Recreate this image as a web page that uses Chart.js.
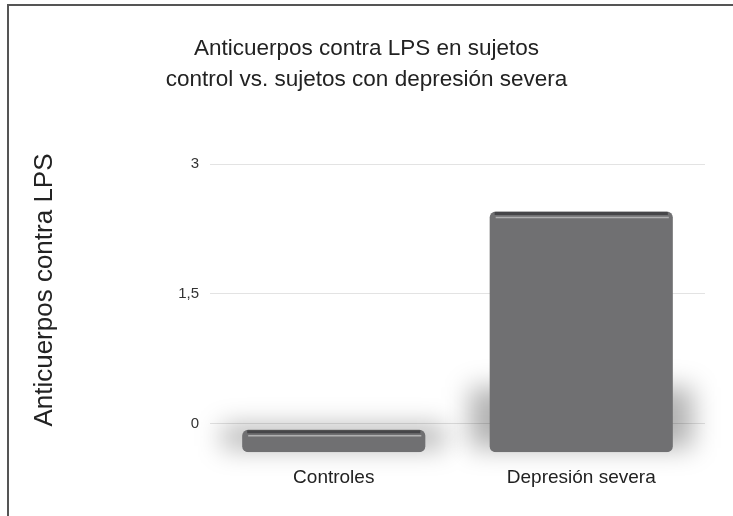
<!DOCTYPE html>
<html>
<head>
<meta charset="utf-8">
<script src="https://cdn.jsdelivr.net/npm/chart.js@4.4.1/dist/chart.umd.min.js"></script>
<style>
  html, body { margin: 0; padding: 0; background: #fff; }
  #wrap { position: relative; width: 733px; height: 516px; }
  #frame { position: absolute; left: 7px; top: 4px; right: 0; bottom: 0;
           border-left: 2px solid #555; border-top: 2px solid #555; pointer-events: none; }
  canvas { position: absolute; left: 0; top: 0; }
</style>
</head>
<body>
<div id="wrap">
  <canvas id="chart" width="733" height="516"></canvas>
  <div id="frame"></div>
</div>
<script>
// data
var categories = ['Controles', 'Depresión severa'];
var values = [-0.07, 2.45];
var tickValues = [0, 1.5, 3];
var titleLines = ['Anticuerpos contra LPS en sujetos', 'control vs. sujetos con depresión severa'];
var yTitle = 'Anticuerpos contra LPS';
var floorValue = -0.33;

var fontFamily = '"Liberation Sans", Arial, Helvetica, sans-serif';

// soft shadow behind the lower part of each bar, plus a rim at the top
var barShadow = {
    id: 'barShadow',
    beforeDatasetsDraw: function(chart){
        var ctx = chart.ctx;
        chart.getDatasetMeta(0).data.forEach(function(bar){
            var h = bar.base - bar.y;
            var sh = Math.min(65, h + 4);
            ctx.save();
            ctx.filter = 'blur(13px)';
            ctx.fillStyle = 'rgba(0,0,0,0.3)';
            ctx.fillRect(bar.x - bar.width/2 - 20, bar.base - sh, bar.width + 40, sh - 4);
            ctx.restore();
        });
    },
    afterDatasetsDraw: function(chart){
        var ctx = chart.ctx;
        chart.getDatasetMeta(0).data.forEach(function(bar){
            var l = bar.x - bar.width/2, r = bar.x + bar.width/2;
            ctx.save();
            ctx.strokeStyle = 'rgba(60,60,62,0.8)';
            ctx.lineWidth = 3;
            ctx.beginPath();
            ctx.moveTo(l + 5, bar.y + 2);
            ctx.lineTo(r - 5, bar.y + 2);
            ctx.stroke();
            ctx.strokeStyle = 'rgba(255,255,255,0.45)';
            ctx.lineWidth = 1.5;
            ctx.beginPath();
            ctx.moveTo(l + 6, bar.y + 6);
            ctx.lineTo(r - 4, bar.y + 6);
            ctx.stroke();
            ctx.restore();
        });
    }
};

new Chart(document.getElementById('chart'), {
    type: 'bar',
    data: {
        labels: categories,
        datasets: [{
            data: values,
            base: floorValue,
            backgroundColor: '#707072',
            borderRadius: 6,
            borderSkipped: false,
            barPercentage: 0.74,
            categoryPercentage: 1
        }]
    },
    plugins: [barShadow],
    options: {
        responsive: false,
        animation: false,
        layout: { padding: { left: 28, right: 28, top: 0, bottom: 21 } },
        plugins: {
            legend: { display: false },
            tooltip: { enabled: false },
            title: {
                display: true,
                text: titleLines,
                color: '#222',
                font: { family: fontFamily, size: 22.5, weight: 'normal', lineHeight: 1.4 },
                padding: { top: 33, bottom: 68 }
            }
        },
        scales: {
            x: {
                grid: { display: false },
                border: { display: false },
                ticks: {
                    color: '#222',
                    padding: 6,
                    font: { family: fontFamily, size: 19 }
                }
            },
            y: {
                min: floorValue,
                max: 3,
                afterBuildTicks: function(scale){
                    scale.ticks = tickValues.map(function(v){ return { value: v }; });
                },
                afterFit: function(scale){ scale.width = 182; },
                grid: { color: '#e3e3e3', lineWidth: 1, drawTicks: false },
                border: { display: false },
                ticks: {
                    color: '#333',
                    padding: 11,
                    font: { family: fontFamily, size: 15 },
                    callback: function(v){ return String(v).replace('.', ','); }
                },
                title: {
                    display: true,
                    // leading spaces lift the label a little, as in the original
                    text: '     ' + yTitle,
                    color: '#222',
                    font: { family: fontFamily, size: 26, weight: 'normal' },
                    padding: { top: 1, bottom: 0 }
                }
            }
        }
    }
});
</script>
</body>
</html>
